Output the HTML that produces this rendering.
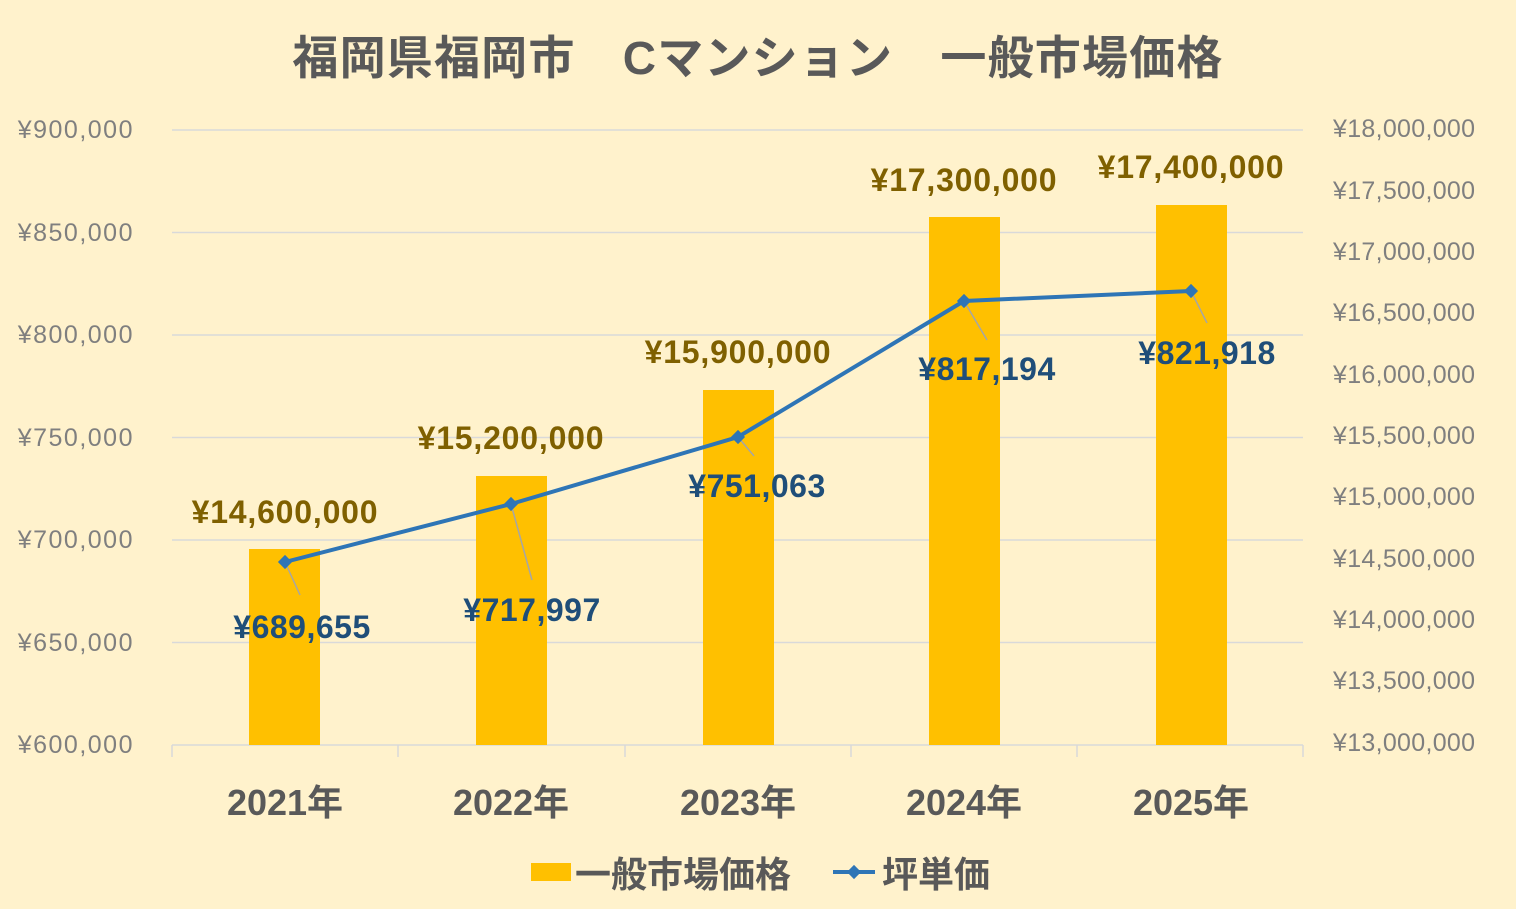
<!DOCTYPE html>
<html><head><meta charset="utf-8"><style>
body{margin:0;background:#FFF2CC;}
svg{display:block;font-family:"Liberation Sans","Noto Sans CJK JP",sans-serif;}
</style></head><body>
<svg width="1516" height="909" viewBox="0 0 1516 909" xmlns="http://www.w3.org/2000/svg">
<rect width="1516" height="909" fill="#FFF2CC"/>
<text x="758" y="74" text-anchor="middle" font-size="46" font-weight="bold" fill="#595959" letter-spacing="1.2">福岡県福岡市　Cマンション　一般市場価格</text>
<g stroke="#D9D9D9" stroke-width="1.5">
<line x1="172" x2="1303" y1="130" y2="130"/>
<line x1="172" x2="1303" y1="232.5" y2="232.5"/>
<line x1="172" x2="1303" y1="335" y2="335"/>
<line x1="172" x2="1303" y1="437.5" y2="437.5"/>
<line x1="172" x2="1303" y1="540" y2="540"/>
<line x1="172" x2="1303" y1="642.5" y2="642.5"/>
<line x1="172" x2="1303" y1="745" y2="745"/>
<line x1="172" x2="172" y1="745" y2="757"/><line x1="398" x2="398" y1="745" y2="757"/>
<line x1="625" x2="625" y1="745" y2="757"/><line x1="851" x2="851" y1="745" y2="757"/>
<line x1="1077" x2="1077" y1="745" y2="757"/><line x1="1303" x2="1303" y1="745" y2="757"/>
</g>
<g font-size="25" fill="#7F7F7F" text-anchor="end" letter-spacing="1.5">
<text x="134" y="138">¥900,000</text><text x="134" y="241">¥850,000</text>
<text x="134" y="343">¥800,000</text><text x="134" y="446">¥750,000</text>
<text x="134" y="548">¥700,000</text><text x="134" y="651">¥650,000</text>
<text x="134" y="753">¥600,000</text>
</g>
<g font-size="25" fill="#7F7F7F" text-anchor="start" letter-spacing="0.3">
<text x="1333" y="137">¥18,000,000</text><text x="1333" y="199">¥17,500,000</text>
<text x="1333" y="260">¥17,000,000</text><text x="1333" y="321">¥16,500,000</text>
<text x="1333" y="383">¥16,000,000</text><text x="1333" y="444">¥15,500,000</text>
<text x="1333" y="505">¥15,000,000</text><text x="1333" y="567">¥14,500,000</text>
<text x="1333" y="628">¥14,000,000</text><text x="1333" y="689">¥13,500,000</text>
<text x="1333" y="751">¥13,000,000</text>
</g>
<g fill="#FFC000">
<rect x="249" y="549" width="71" height="196"/>
<rect x="476" y="476" width="71" height="269"/>
<rect x="703" y="390" width="71" height="355"/>
<rect x="929" y="217" width="71" height="528"/>
<rect x="1156" y="205" width="71" height="540"/>
</g>
<g font-size="32" font-weight="bold" fill="#7F6000" text-anchor="middle" letter-spacing="0.8">
<text x="285" y="523">¥14,600,000</text>
<text x="511" y="449">¥15,200,000</text>
<text x="738" y="363">¥15,900,000</text>
<text x="964" y="191">¥17,300,000</text>
<text x="1191" y="178">¥17,400,000</text>
</g>
<g stroke="#A6A6A6" stroke-width="1.5">
<line x1="285" y1="562" x2="300" y2="595"/>
<line x1="511" y1="504" x2="532" y2="580"/>
<line x1="738" y1="437" x2="754" y2="456"/>
<line x1="964" y1="301" x2="987" y2="340"/>
<line x1="1191" y1="291" x2="1207" y2="323"/>
</g>
<polyline points="285,562 511,504 738,437 964,301 1191,291" fill="none" stroke="#2E75B6" stroke-width="4"/>
<g fill="#2E75B6">
<rect x="280" y="557" width="10" height="10" transform="rotate(45 285 562)"/>
<rect x="506" y="499" width="10" height="10" transform="rotate(45 511 504)"/>
<rect x="733" y="432" width="10" height="10" transform="rotate(45 738 437)"/>
<rect x="959" y="296" width="10" height="10" transform="rotate(45 964 301)"/>
<rect x="1186" y="286" width="10" height="10" transform="rotate(45 1191 291)"/>
</g>
<g font-size="32" font-weight="bold" fill="#1F4E79" text-anchor="middle" letter-spacing="0.5">
<text x="302" y="638">¥689,655</text>
<text x="532" y="621">¥717,997</text>
<text x="757" y="497">¥751,063</text>
<text x="987" y="380">¥817,194</text>
<text x="1207" y="364">¥821,918</text>
</g>
<g font-size="36" font-weight="bold" fill="#595959" text-anchor="middle">
<text x="285" y="815">2021年</text><text x="511" y="815">2022年</text>
<text x="738" y="815">2023年</text><text x="964" y="815">2024年</text>
<text x="1191" y="815">2025年</text>
</g>
<rect x="531" y="863" width="40" height="18" fill="#FFC000"/>
<text x="575" y="887" font-size="36" font-weight="bold" fill="#595959">一般市場価格</text>
<line x1="833" y1="872" x2="875" y2="872" stroke="#2E75B6" stroke-width="4"/>
<rect x="849" y="867" width="10" height="10" fill="#2E75B6" transform="rotate(45 854 872)"/>
<text x="882" y="887" font-size="36" font-weight="bold" fill="#595959">坪単価</text>
</svg>
</body></html>
